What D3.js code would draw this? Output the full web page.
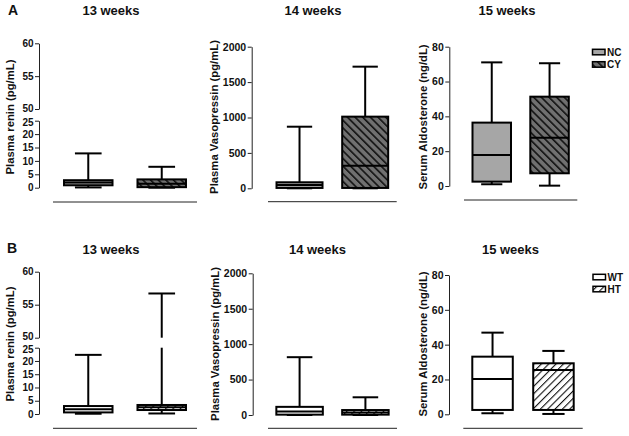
<!DOCTYPE html>
<html><head><meta charset="utf-8">
<script src="https://cdn.jsdelivr.net/npm/d3@7"></script>
<style>
html,body{margin:0;padding:0;background:#fff;}
svg{display:block;}
text{font-family:"Liberation Sans",Arial,sans-serif;font-weight:bold;fill:#111;}
</style></head>
<body>
<svg id="chart" width="629" height="436"></svg>
<script>
// ---- data ----
const rowLabels = ["A", "B"];
const weeks = ["13 weeks", "14 weeks", "15 weeks"];
const groupsA = ["NC", "CY"];
const groupsB = ["WT", "HT"];
const yLabels = ["Plasma renin (pg/mL)", "Plasma Vasopressin (pg/mL)", "Serum Aldosterone (ng/dL)"];
// five-number summaries: [min, q1, median, q3, max]
const reninA = [[0.1, 0.9, 1.9, 2.8, 12.8], [0, 0.2, 1.5, 3.1, 7.8]];
const vasoA  = [[0, 5, 45, 85, 870], [0, 5, 320, 1012, 1718]];
const aldoA  = [[1, 2.5, 17.8, 36.4, 71], [0.2, 7.3, 27.7, 51.3, 70.5]];
const reninB = [[0.1, 0.6, 1.8, 3.0, 22.3], [0.2, 1.5, 2.5, 3.4, 56.7]];
const vasoB  = [[0, 5, 50, 115, 816], [0, 5, 35, 70, 250]];
const aldoB  = [[0.6, 2.5, 20.3, 33.1, 46.9], [0.2, 2.5, 25.4, 29.3, 36.4]];
const reninTicksLow = [0, 5, 10, 15, 20, 25];
const reninTicksHigh = [50, 55, 60];
const vasoTicks = [0, 500, 1000, 1500, 2000];
const aldoTicks = [0, 20, 40, 60, 80];

// ---- drawing ----
const svg = d3.select("#chart");
const defs = svg.append("defs");
const pCY = defs.append("pattern").attr("id", "hatchCY").attr("patternUnits", "userSpaceOnUse")
  .attr("width", 5.4).attr("height", 10).attr("patternTransform", "rotate(-45)");
pCY.append("rect").attr("width", 5.4).attr("height", 10).attr("fill", "#707070");
pCY.append("rect").attr("width", 1.6).attr("height", 10).attr("fill", "#111");
const pHT = defs.append("pattern").attr("id", "hatchHT").attr("patternUnits", "userSpaceOnUse")
  .attr("width", 5.2).attr("height", 10).attr("patternTransform", "rotate(45)");
pHT.append("rect").attr("width", 5.2).attr("height", 10).attr("fill", "#fff");
pHT.append("rect").attr("width", 1.1).attr("height", 10).attr("fill", "#111");

const fills = {NC: "#a6a6a6", CY: "url(#hatchCY)", WT: "#ffffff", HT: "url(#hatchHT)"};

const rows = [
  {label: "A", lx: 8, ly: 15, ty: 15, titleX: [111, 313, 507], groups: groupsA,
   legend: {x: 592.5, y: [49.3, 61.7], ty: [55.5, 67.5]},
   panels: [
    {type: "renin", data: reninA, ax: 39, low: [187.7, 120.7], high: [109, 43.3], line: [53, 197, 202], bw: 48.5, lab: [10, 117]},
    {type: "vaso", data: vasoA, ax: 251.7, r: [188.3, 46.7], line: [268, 396.7, 201.7], bw: 46, lab: [214, 117]},
    {type: "aldo", data: aldoA, ax: 449.3, r: [186, 46.7], line: [464, 577.3, 200], bw: 38.5, lab: [422.5, 117]}
   ]},
  {label: "B", lx: 7, ly: 253, ty: 254, titleX: [111, 317.5, 510.5], groups: groupsB,
   legend: {x: 593, y: [274.3, 286.3], ty: [280.5, 292.5]},
   panels: [
    {type: "renin", data: reninB, ax: 39, low: [414, 347.7], high: [337.7, 271.7], line: [53, 197, 428.3], bw: 48.5, lab: [10, 344]},
    {type: "vaso", data: vasoB, ax: 252.7, r: [415, 273.3], line: [268, 397, 428.3], bw: 46.5, lab: [215, 344]},
    {type: "aldo", data: aldoB, ax: 449, r: [414.3, 275], line: [463.3, 582.7, 428.3], bw: 40.5, lab: [422.5, 344]}
   ]}
];

function styleAxis(g, fs) {
  g.selectAll("path").attr("stroke", "#222").attr("stroke-width", 1);
  g.selectAll("line").attr("stroke", "#222").attr("stroke-width", 1);
  g.selectAll("text").attr("font-size", fs).attr("font-family", "'Liberation Sans',Arial,sans-serif")
    .attr("font-weight", "bold").attr("fill", "#111");
}

rows.forEach(row => {
  svg.append("text").attr("x", row.lx).attr("y", row.ly).attr("font-size", 14).text(row.label);
  weeks.forEach((w, i) => {
    svg.append("text").attr("x", row.titleX[i]).attr("y", row.ty).attr("font-size", 13)
      .attr("text-anchor", "middle").text(w);
  });

  row.panels.forEach((p, pi) => {
    const g = svg.append("g");
    let yf, whiskerSegs;
    const fmt = d3.format("d");
    if (p.type === "renin") {
      const yLow = d3.scaleLinear().domain([0, 25]).range(p.low);
      const yHigh = d3.scaleLinear().domain([50, 60]).range(p.high);
      const a1 = g.append("g").attr("transform", `translate(${p.ax},0)`)
        .call(d3.axisLeft(yLow).tickValues(reninTicksLow).tickFormat(fmt).tickSize(4).tickSizeOuter(0).tickPadding(1.5));
      const a2 = g.append("g").attr("transform", `translate(${p.ax},0)`)
        .call(d3.axisLeft(yHigh).tickValues(reninTicksHigh).tickFormat(fmt).tickSize(4).tickSizeOuter(0).tickPadding(1.5));
      styleAxis(a1, 10); styleAxis(a2, 10);
      // keep the two labels at the axis break from colliding
      a1.selectAll(".tick").filter(d => d === 25).select("text").attr("dy", "0.5em");
      a2.selectAll(".tick").filter(d => d === 50).select("text").attr("dy", "0.2em");
      yf = v => v <= 25 ? yLow(v) : yHigh(v);
      whiskerSegs = (q3, mx) => mx > 25 ? [[yLow(q3), yLow(25)], [yHigh(50), yHigh(mx)]] : [[yLow(q3), yLow(mx)]];
    } else {
      const dom = p.type === "vaso" ? [0, 2000] : [0, 80];
      const ticks = p.type === "vaso" ? vasoTicks : aldoTicks;
      const y = d3.scaleLinear().domain(dom).range(p.r);
      const a = g.append("g").attr("transform", `translate(${p.ax},0)`)
        .call(d3.axisLeft(y).tickValues(ticks).tickFormat(fmt).tickSize(4).tickSizeOuter(0).tickPadding(1.5));
      styleAxis(a, 10.5);
      yf = y;
      whiskerSegs = (q3, mx) => [[y(q3), y(mx)]];
    }
    // y label
    svg.append("text").attr("transform", `translate(${p.lab[0] + 4},${p.lab[1]}) rotate(-90)`)
      .attr("text-anchor", "middle").attr("font-size", 11.3).text(yLabels[pi]);
    // bottom line
    g.append("line").attr("x1", p.line[0]).attr("x2", p.line[1]).attr("y1", p.line[2]).attr("y2", p.line[2])
      .attr("stroke", "#222").attr("stroke-width", 1);

    const x = d3.scalePoint().domain(row.groups).range([p.line[0], p.line[1]]).padding(0.48);
    const cap = p.bw * 0.55;
    row.groups.forEach((grp, gi) => {
      const [mn, q1, md, q3, mx] = p.data[gi];
      const cx = x(grp);
      const bg = g.append("g").attr("stroke", "#000").attr("stroke-width", 2).attr("fill", "none");
      // whiskers
      whiskerSegs(q3, mx).forEach(s => bg.append("line").attr("x1", cx).attr("x2", cx).attr("y1", s[0]).attr("y2", s[1]));
      bg.append("line").attr("x1", cx).attr("x2", cx).attr("y1", yf(q1)).attr("y2", yf(mn));
      bg.append("line").attr("x1", cx - cap / 2).attr("x2", cx + cap / 2).attr("y1", yf(mx)).attr("y2", yf(mx));
      bg.append("line").attr("x1", cx - cap / 2).attr("x2", cx + cap / 2).attr("y1", yf(mn)).attr("y2", yf(mn));
      // box
      bg.append("rect").attr("x", cx - p.bw / 2).attr("width", p.bw)
        .attr("y", yf(q3)).attr("height", Math.max(0.5, yf(q1) - yf(q3))).attr("fill", fills[grp]);
      bg.append("line").attr("x1", cx - p.bw / 2).attr("x2", cx + p.bw / 2).attr("y1", yf(md)).attr("y2", yf(md));
    });
  });

  // legend
  row.groups.forEach((grp, gi) => {
    svg.append("rect").attr("x", row.legend.x).attr("y", row.legend.y[gi]).attr("width", 12.5).attr("height", 5.5)
      .attr("fill", fills[grp]).attr("stroke", "#000").attr("stroke-width", 1.5);
    svg.append("text").attr("x", row.legend.x + 14.5).attr("y", row.legend.ty[gi]).attr("font-size", 10).text(grp);
  });
});
</script>
</body></html>
